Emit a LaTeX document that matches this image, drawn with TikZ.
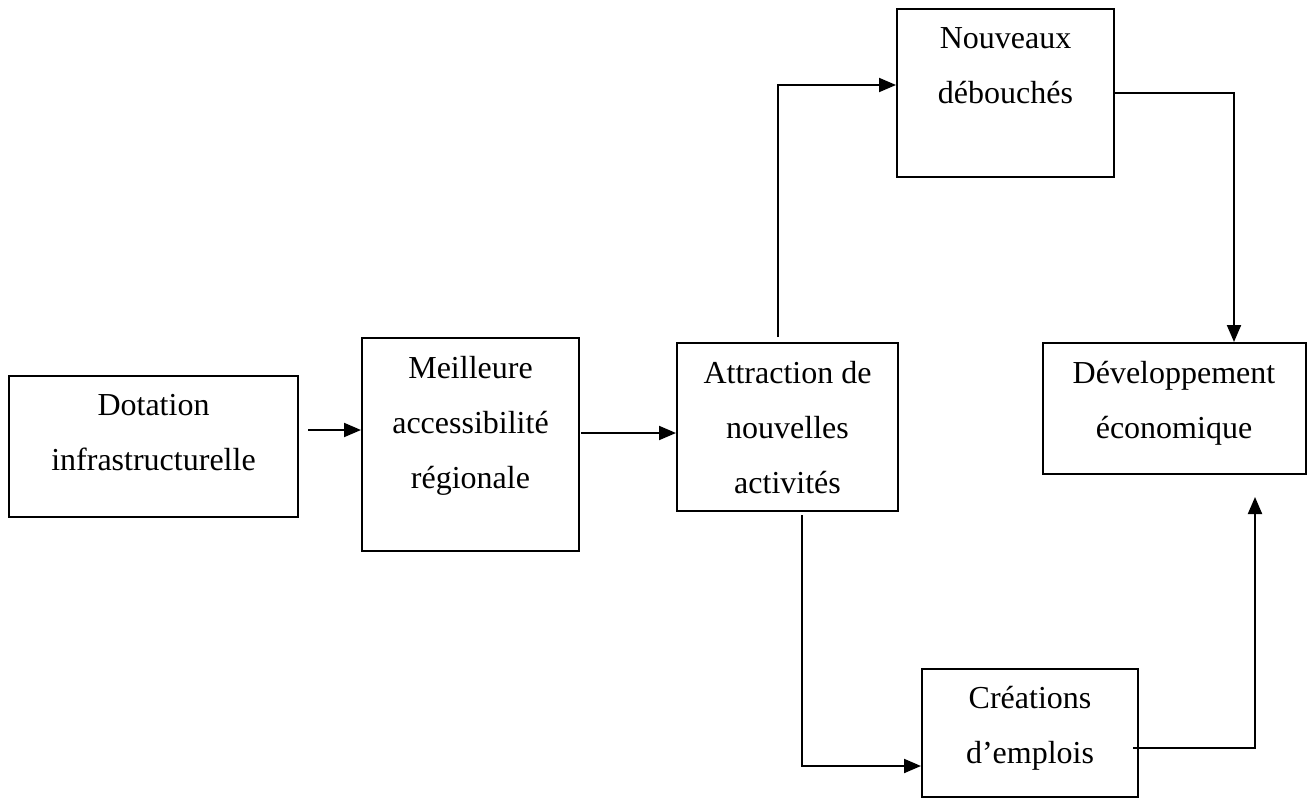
\documentclass[tikz,border=0pt]{standalone}
\usepackage{fontspec}
\setmainfont{Liberation Serif}
\usetikzlibrary{arrows.meta,calc}
\begin{document}
\begin{tikzpicture}[x=1pt,y=-1pt,
  box/.style={draw, line width=2pt, rectangle, inner sep=0pt},
  lbl/.style={font=\fontsize{32}{55}\selectfont, align=center, inner sep=0pt, anchor=base},
  conn/.style={line width=2pt},
  arr/.style={conn, -{Triangle[length=17pt,width=14pt]}}]
\useasboundingbox (0,0) rectangle (1307,800);
% boxes
\node[box, minimum width=289pt, minimum height=141pt] (dot) at (153.5,446.5) {};
\node[box, minimum width=217pt, minimum height=213pt] (mei) at (470.5,444.5) {};
\node[box, minimum width=221pt, minimum height=168pt] (att) at (787.5,427) {};
\node[box, minimum width=217pt, minimum height=168pt] (nou) at (1005.5,93) {};
\node[box, minimum width=263pt, minimum height=131pt] (dev) at (1174,408.5) {};
\node[box, minimum width=216pt, minimum height=128pt] (cre) at (1030,733) {};
% labels (base = last line)
\node[lbl] (dott) at (153.5,470) {Dotation\\infrastructurelle};
\node[lbl] (meit) at (470.5,488) {Meilleure\\accessibilité\\régionale};
\node[lbl] (attt) at (787.5,493) {Attraction de\\nouvelles\\activités};
\node[lbl] (nout) at (1005.5,103) {Nouveaux\\débouchés};
\node[lbl] (devt) at (1174,438) {Développement\\économique};
\node[lbl] (cret) at (1030,763) {Créations\\d’emplois};
% free ends
\coordinate (s1) at (308,430);
\coordinate (s2) at (581,433);
\coordinate (s3) at (778,337);
\coordinate (k3) at (778,85);
\coordinate (s5) at (802,515);
\coordinate (k5) at (802,766);
\coordinate (s6) at (1133,748);
\coordinate (k6) at (1255,748);
\coordinate (e6) at (1255,497);
% connectors
\draw[arr] (s1) -- (s1 -| mei.west);
\draw[arr] (s2) -- (s2 -| att.west);
\draw[arr] (s3) -- (k3) -- (k3 -| nou.west);
\draw[arr] (nou.east) -| ([xshift=60pt]dev.north);
\draw[arr] (s5) -- (k5) -- (k5 -| cre.west);
\draw[arr] (s6) -- (k6) -- (e6);
\end{tikzpicture}
\end{document}
